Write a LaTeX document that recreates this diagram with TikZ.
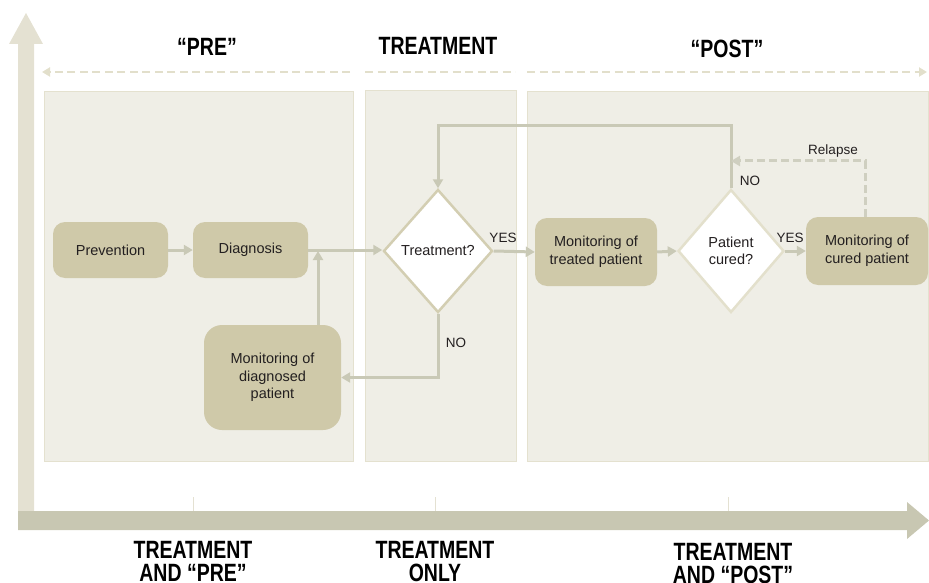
\documentclass[tikz,border=0pt]{standalone}
\usepackage{fontspec}
\setmainfont{Liberation Sans}
\newfontfamily\headfont[FakeStretch=0.78]{Liberation Sans}
\usetikzlibrary{arrows.meta,shapes.geometric}
\definecolor{panelfill}{HTML}{EFEEE6}
\definecolor{panelline}{HTML}{E4E1CF}
\definecolor{boxfill}{HTML}{CFC9A9}
\definecolor{connc}{HTML}{C9C9B6}
\definecolor{diaA}{HTML}{D3CEB2}
\definecolor{diaB}{HTML}{E3E0CC}
\definecolor{hdashc}{HTML}{E2DFCB}
\definecolor{rdashc}{HTML}{CFCFC0}
\definecolor{vaxisc}{HTML}{E4E1D2}
\definecolor{haxisc}{HTML}{C8C7B2}
\definecolor{txt}{HTML}{231F20}
\tikzset{
  panel/.style={fill=panelfill,draw=panelline,line width=1pt},
  box/.style={fill=boxfill,rounded corners=12pt,align=center,text=txt,inner sep=0pt,
    font=\fontsize{14.5}{17.5}\selectfont},
  dia/.style={diamond,fill=white,draw=diaA,line width=2.5pt,align=center,text=txt,inner sep=0pt,
    font=\fontsize{14.5}{17.5}\selectfont},
  conn/.style={draw=connc,line width=3pt,-{Triangle[length=9pt,width=10pt]}},
  rdash/.style={draw=rdashc,line width=3pt,dash pattern=on 8pt off 4pt,-{Triangle[length=9pt,width=10pt]}},
  hdash/.style={draw=hdashc,line width=2.5pt,dash pattern=on 8pt off 4.5pt},
  lbl/.style={text=txt,inner sep=0pt,font=\fontsize{13.5}{16}\selectfont},
  head/.style={text=black,inner sep=0pt,align=center,anchor=north,
    font=\headfont\bfseries\fontsize{25}{23}\selectfont},
  tickline/.style={draw=vaxisc,line width=1pt}
}
\begin{document}
\begin{tikzpicture}[x=1pt,y=-1pt]
\useasboundingbox (0,0) rectangle (929,583);
% panels
\path[panel] (44,92) rectangle (353,461);
\path[panel] (365,91) rectangle (516,461);
\path[panel] (527,92) rectangle (928,461);
% axes
\fill[vaxisc] (18,44) -- (9,44) -- (26,13) -- (43,44) -- (34,44) -- (34,512) -- (18,512) -- cycle;
\fill[haxisc] (18,511) -- (907,511) -- (907,502) -- (929,520.5) -- (907,539) -- (907,530) -- (18,530) -- cycle;
\draw[tickline] (193,497) -- (193,511);
\draw[tickline] (435,497) -- (435,511);
\draw[tickline] (728,497) -- (728,511);
% header labels
\node[head] (hpre) at (207,38) {“PRE”};
\node[head] (htr) at (438,37) {TREATMENT};
\node[head] (hpost) at (727,40) {“POST”};
% header dashed arrows
\coordinate (d1a) at (350,72); \coordinate (d1b) at (42,72);
\coordinate (d2a) at (365,72); \coordinate (d2b) at (515,72);
\coordinate (d3a) at (527,72); \coordinate (d3b) at (927,72);
\draw[hdash,-{Triangle[length=8pt,width=9pt]}] (d1a) -- (d1b);
\draw[hdash] (d2a) -- (d2b);
\draw[hdash,-{Triangle[length=8pt,width=9pt]}] (d3a) -- (d3b);
% bottom labels
\node[head] (bpre) at (193,541) {TREATMENT\\AND “PRE”};
\node[head] (bonly) at (435,541) {TREATMENT\\ONLY};
\node[head] (bpost) at (733,543) {TREATMENT\\AND “POST”};
% nodes
\node[box,minimum width=115pt,minimum height=56pt] (prev) at (110.5,250) {Prevention};
\node[box,minimum width=115pt,minimum height=56pt] (diag) at (250.5,250) {Diagnosis};
\node[box,rounded corners=18pt,minimum width=137pt,minimum height=105pt] (mdp) at (272.5,377.5) {Monitoring of\\diagnosed\\patient};
\node[dia,minimum width=109pt,minimum height=123pt] (tq) at (438,251) {Treatment?};
\node[box,minimum width=122pt,minimum height=68pt] (mtp) at (596,252) {Monitoring of\\treated patient};
\node[dia,draw=diaB,minimum width=106pt,minimum height=123pt] (pc) at (731,251) {Patient\\cured?};
\node[box,minimum width=122pt,minimum height=68pt] (mcp) at (867,251) {Monitoring of\\cured patient};
% connectors
\draw[conn] (prev) -- (diag);
\draw[conn] (diag.east) -- (diag.east -| tq.west);
\coordinate (j) at (318,251);
\draw[conn] (mdp.north -| j) -- (j);
\draw[conn] (tq.south) |- (mdp.east);
\draw[conn] (tq.east) -- (mtp.west);
\draw[conn] (mtp.east) -- (pc.west);
\draw[conn] (pc.east) -- (mcp.west);
\coordinate (loop) at (438,126);
\draw[conn] (pc.north) |- (loop) -- (tq.north);
\coordinate (rl) at (731,161);
\draw[rdash] (mcp.north -| 865,0) |- (rl);
% labels
\node[lbl] (no1) at (456,343) {NO};
\node[lbl] (yes1) at (503,238) {YES};
\node[lbl] (yes2) at (790,238) {YES};
\node[lbl] (no2) at (750,181) {NO};
\node[lbl] (rel) at (833,151) {Relapse};
\end{tikzpicture}
\end{document}
